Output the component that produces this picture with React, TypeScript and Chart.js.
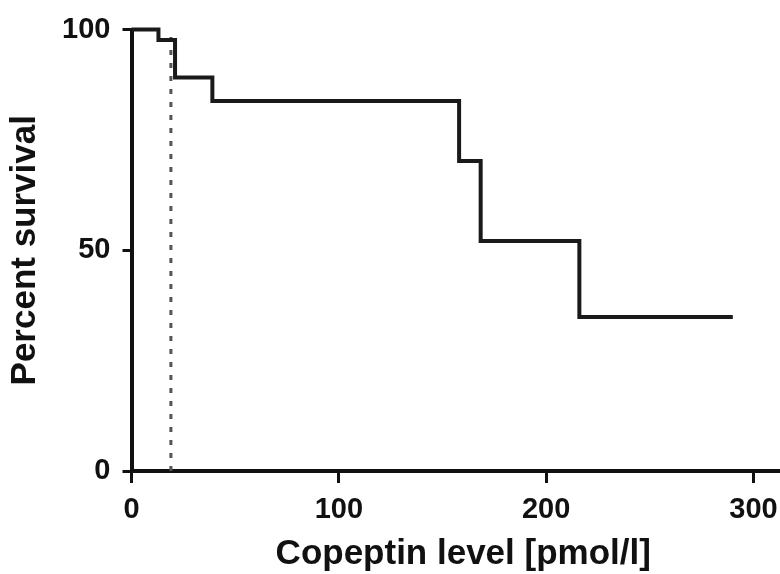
import { useEffect, useRef } from "react";
import { Chart, registerables } from "chart.js";

Chart.register(...registerables);

// Kaplan–Meier step curve: copeptin level at each drop and the survival after it
const eventTimes = [0, 13, 21, 39, 158, 168.4, 216, 290];
const survivalPercent = [100, 97.6, 89.1, 83.8, 70.2, 52.1, 34.9, 34.9];

// dotted vertical reference line
const cutoffLevel = 19;
const cutoffSpan = [0, 100];

const xTickValues = [0, 100, 200, 300];
const yTickValues = [0, 50, 100];

const xTitle = "Copeptin level [pmol/l]";
const yTitle = "Percent survival";

const family = "'Liberation Sans', Arial, Helvetica, sans-serif";
const ink = "#111";

// the x axis runs on past the right edge of the visible frame
const canvasWidth = 795;
const canvasHeight = 574;

export default function App() {
  const canvasRef = useRef<HTMLCanvasElement | null>(null);

  useEffect(() => {
    const canvas = canvasRef.current;
    if (!canvas) return;

    const curve = eventTimes.map((t, i) => ({ x: t, y: survivalPercent[i] }));
    const cutoff = cutoffSpan.map((v) => ({ x: cutoffLevel, y: v }));

    const chart = new Chart(canvas, {
      type: "line",
      data: {
        datasets: [
          {
            data: curve,
            stepped: true,
            borderColor: "#1a1a1a",
            borderWidth: 4,
            borderJoinStyle: "miter",
            borderCapStyle: "butt",
            pointRadius: 0,
            fill: false,
            clip: false,
          },
          {
            data: cutoff,
            borderColor: "#555",
            borderWidth: 3,
            borderDash: [5, 8],
            pointRadius: 0,
            fill: false,
            clip: false,
          },
        ],
      },
      options: {
        animation: false,
        responsive: false,
        devicePixelRatio: 1,
        layout: { padding: { top: 29.5, right: 0, left: 0, bottom: 0 } },
        plugins: {
          legend: { display: false },
          tooltip: { enabled: false },
        },
        scales: {
          x: {
            type: "linear",
            min: 0,
            max: 320,
            afterBuildTicks: (s: any) => {
              s.ticks = xTickValues.map((v) => ({ value: v }));
            },
            afterFit: (s: any) => {
              s.height = 103;
            },
            grid: {
              drawOnChartArea: false,
              drawTicks: true,
              tickLength: 12,
              tickWidth: 3,
              tickColor: ink,
            },
            border: { display: true, width: 4, color: ink },
            ticks: {
              padding: 10,
              color: ink,
              maxRotation: 0,
              font: { family, size: 29, weight: "bold" },
            },
            title: {
              display: true,
              text: xTitle,
              color: ink,
              font: { family, size: 35, weight: "bold", lineHeight: 1 },
              padding: { top: 0, bottom: 2 },
            },
          },
          y: {
            type: "linear",
            min: 0,
            max: 100,
            afterBuildTicks: (s: any) => {
              s.ticks = yTickValues.map((v) => ({ value: v }));
            },
            afterFit: (s: any) => {
              s.width = 131.5;
            },
            grid: {
              drawOnChartArea: false,
              drawTicks: true,
              tickLength: 9,
              tickWidth: 3,
              tickColor: ink,
            },
            border: { display: true, width: 4, color: ink },
            ticks: {
              padding: 12,
              color: ink,
              font: { family, size: 29, weight: "bold" },
            },
            title: {
              display: true,
              text: yTitle,
              color: ink,
              font: { family, size: 35, weight: "bold", lineHeight: 1.2 },
              padding: { top: 4, bottom: 0 },
            },
          },
        },
      },
    });

    return () => chart.destroy();
  }, []);

  return (
    <div
      style={{
        position: "fixed",
        left: 0,
        top: 0,
        width: 780,
        height: 574,
        overflow: "hidden",
        background: "#fff",
      }}
    >
      <canvas
        ref={canvasRef}
        width={canvasWidth}
        height={canvasHeight}
        style={{ display: "block" }}
      />
    </div>
  );
}
